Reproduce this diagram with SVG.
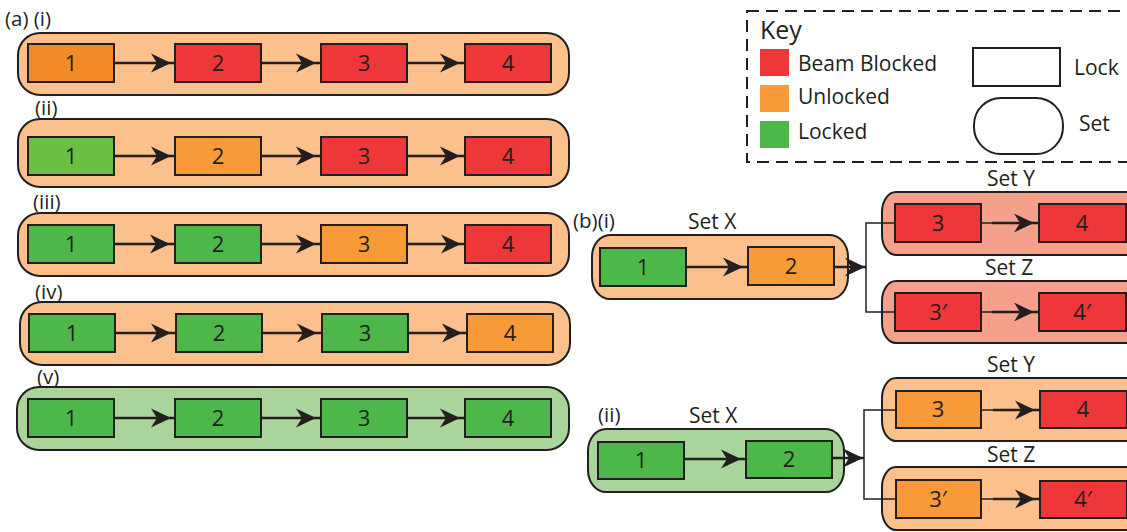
<svg xmlns="http://www.w3.org/2000/svg" width="1127" height="532" viewBox="0 0 1127 532">
  <defs>
    <style>
      text { font-family: "Open Sans", "Liberation Sans", sans-serif; fill: #231F20; }
      .lbl { font-size: 20.5px; }
      .ttl { font-size: 21px; }
      .num { font-size: 22px; text-anchor: middle; }
      .set { stroke: #231F20; stroke-width: 2; }
      .lock { stroke: #231F20; stroke-width: 2; }
      .so { fill: #FBC08B; }
      .sg { fill: #A9D59C; }
      .sr { fill: #F5A08B; }
      .r { fill: #EE3738; }
      .o { fill: #F79A37; }
      .od { fill: #F28B25; }
      .g { fill: #4EB749; }
      .gl { fill: #6DBE45; }
      .ln { fill: none; stroke: #231F20; stroke-width: 2.5; }
      .thin { fill: none; stroke: #231F20; stroke-width: 1.5; }
    </style>
    <marker id="ah" markerUnits="userSpaceOnUse" markerWidth="24" markerHeight="24" viewBox="-22 -12 24 24" refX="0" refY="0" orient="auto">
      <path d="M0,0 L-20,-9.5 L-14,0 L-20,9.5 Z" fill="#231F20"/>
    </marker>
  </defs>

  <!-- key -->
  <g id="key">
    <rect x="747" y="11" width="420" height="151" fill="none" stroke="#231F20" stroke-width="2" stroke-dasharray="12 7"/>
    <text x="760" y="39" style="font-size:25px">Key</text>
    <rect x="760" y="49" width="29" height="27" class="r"/>
    <rect x="760" y="85" width="29" height="27" class="o"/>
    <rect x="760" y="121" width="29" height="27" class="g"/>
    <text x="798" y="71" class="ttl">Beam Blocked</text>
    <text x="798" y="104" class="ttl">Unlocked</text>
    <text x="798" y="139" class="ttl">Locked</text>
    <rect x="973" y="48" width="87" height="38" fill="#fff" class="lock"/>
    <text x="1074" y="75" class="ttl">Lock</text>
    <rect x="974" y="98" width="89" height="56" rx="27" ry="27" fill="#fff" class="set"/>
    <text x="1079" y="131" class="ttl">Set</text>
  </g>

  <!-- (a) labels -->
  <g id="labels-a">
    <text x="5" y="26" class="lbl">(a) (i)</text>
    <text x="35" y="115" class="lbl">(ii)</text>
    <text x="33" y="209" class="lbl">(iii)</text>
    <text x="35" y="299" class="lbl">(iv)</text>
    <text x="37" y="384" class="lbl">(v)</text>
  </g>

  <!-- (a)(i) -->
  <g id="a1">
    <rect x="18" y="33" width="551" height="62" rx="22" ry="22" class="set so"/>
    <rect x="28" y="44" width="86" height="38" class="lock od"/>
    <rect x="175" y="44" width="86" height="38" class="lock r"/>
    <rect x="321" y="44" width="86" height="38" class="lock r"/>
    <rect x="465" y="44" width="86" height="38" class="lock r"/>
    <text x="71" y="71" class="num">1</text>
    <text x="218" y="71" class="num">2</text>
    <text x="364" y="71" class="num">3</text>
    <text x="508" y="71" class="num">4</text>
  </g>

  <!-- (a)(ii) -->
  <g id="a2">
    <rect x="18" y="119" width="551" height="68" rx="22" ry="22" class="set so"/>
    <rect x="28" y="137" width="86" height="38" class="lock gl"/>
    <rect x="175" y="137" width="86" height="38" class="lock o"/>
    <rect x="321" y="137" width="86" height="38" class="lock r"/>
    <rect x="465" y="137" width="86" height="38" class="lock r"/>
    <text x="71" y="164" class="num">1</text>
    <text x="218" y="164" class="num">2</text>
    <text x="364" y="164" class="num">3</text>
    <text x="508" y="164" class="num">4</text>
  </g>

  <!-- (a)(iii) -->
  <g id="a3">
    <rect x="18" y="213" width="551" height="63" rx="22" ry="22" class="set so"/>
    <rect x="28" y="225" width="86" height="38" class="lock g"/>
    <rect x="175" y="225" width="86" height="38" class="lock g"/>
    <rect x="321" y="225" width="86" height="38" class="lock o"/>
    <rect x="465" y="225" width="86" height="38" class="lock r"/>
    <text x="71" y="252" class="num">1</text>
    <text x="218" y="252" class="num">2</text>
    <text x="364" y="252" class="num">3</text>
    <text x="508" y="252" class="num">4</text>
  </g>

  <!-- (a)(iv) -->
  <g id="a4">
    <rect x="20" y="302" width="550" height="63" rx="22" ry="22" class="set so"/>
    <rect x="29" y="314" width="86" height="38" class="lock g"/>
    <rect x="176" y="314" width="86" height="38" class="lock g"/>
    <rect x="322" y="314" width="86" height="38" class="lock g"/>
    <rect x="467" y="314" width="86" height="38" class="lock o"/>
    <text x="72" y="341" class="num">1</text>
    <text x="219" y="341" class="num">2</text>
    <text x="365" y="341" class="num">3</text>
    <text x="510" y="341" class="num">4</text>
  </g>

  <!-- (a)(v) -->
  <g id="a5">
    <rect x="17" y="387" width="552" height="63" rx="22" ry="22" class="set sg"/>
    <rect x="28" y="399" width="86" height="38" class="lock g"/>
    <rect x="175" y="399" width="86" height="38" class="lock g"/>
    <rect x="321" y="399" width="86" height="38" class="lock g"/>
    <rect x="465" y="399" width="86" height="38" class="lock g"/>
    <text x="71" y="426" class="num">1</text>
    <text x="218" y="426" class="num">2</text>
    <text x="364" y="426" class="num">3</text>
    <text x="508" y="426" class="num">4</text>
  </g>

  <!-- (b)(i) -->
  <g id="b1-labels">
    <text x="573" y="228" class="lbl">(b)(i)</text>
    <text x="688" y="229" class="ttl">Set X</text>
    <text x="987" y="186" class="ttl">Set Y</text>
    <text x="985" y="275" class="ttl">Set Z</text>
  </g>
  <g id="b1-setX">
    <rect x="592" y="235" width="256" height="64" rx="18" ry="22" class="set so"/>
    <rect x="600" y="248" width="86" height="38" class="lock g"/>
    <rect x="748" y="247" width="86" height="38" class="lock o"/>
    <text x="643" y="275" class="num">1</text>
    <text x="791" y="274" class="num">2</text>
  </g>
  <g id="b1-setY">
    <rect x="882" y="192" width="300" height="63" rx="14" ry="20" class="set sr"/>
    <rect x="895" y="204" width="86" height="38" class="lock r"/>
    <rect x="1039" y="204" width="87" height="38" class="lock r"/>
    <text x="938" y="231" class="num">3</text>
    <text x="1082" y="231" class="num">4</text>
  </g>
  <g id="b1-setZ">
    <rect x="882" y="281" width="300" height="62" rx="14" ry="20" class="set sr"/>
    <rect x="895" y="293" width="86" height="38" class="lock r"/>
    <rect x="1039" y="293" width="87" height="38" class="lock r"/>
    <text x="938" y="320" class="num">3′</text>
    <text x="1082" y="320" class="num">4′</text>
  </g>

  <!-- (b)(ii) -->
  <g id="b2-labels">
    <text x="598" y="422" class="lbl">(ii)</text>
    <text x="689" y="423" class="ttl">Set X</text>
    <text x="987" y="372" class="ttl">Set Y</text>
    <text x="987" y="462" class="ttl">Set Z</text>
  </g>
  <g id="b2-setX">
    <rect x="588" y="429" width="256" height="63" rx="18" ry="22" class="set sg"/>
    <rect x="598" y="442" width="86" height="37" class="lock g"/>
    <rect x="746" y="441" width="86" height="37" class="lock g"/>
    <text x="641" y="468" class="num">1</text>
    <text x="789" y="467" class="num">2</text>
  </g>
  <g id="b2-setY">
    <rect x="882" y="378" width="300" height="63" rx="14" ry="20" class="set so"/>
    <rect x="896" y="391" width="85" height="37" class="lock o"/>
    <rect x="1040" y="391" width="87" height="37" class="lock r"/>
    <text x="938" y="417" class="num">3</text>
    <text x="1083" y="417" class="num">4</text>
  </g>
  <g id="b2-setZ">
    <rect x="882" y="467" width="300" height="63" rx="14" ry="20" class="set so"/>
    <rect x="896" y="480" width="85" height="38" class="lock o"/>
    <rect x="1040" y="481" width="87" height="37" class="lock r"/>
    <text x="938" y="507" class="num">3′</text>
    <text x="1083" y="507" class="num">4′</text>
  </g>

  <!-- connectors -->
  <g id="connectors">
    <!-- (a) chains -->
    <path class="ln" marker-mid="url(#ah)" d="M114,63 L171,63 L175,63"/>
    <path class="ln" marker-mid="url(#ah)" d="M261,63 L316,63 L321,63"/>
    <path class="ln" marker-mid="url(#ah)" d="M407,63 L460,63 L465,63"/>

    <path class="ln" marker-mid="url(#ah)" d="M114,156 L171,156 L175,156"/>
    <path class="ln" marker-mid="url(#ah)" d="M261,156 L316,156 L321,156"/>
    <path class="ln" marker-mid="url(#ah)" d="M407,156 L460,156 L465,156"/>

    <path class="ln" marker-mid="url(#ah)" d="M114,244 L170,244 L175,244"/>
    <path class="ln" marker-mid="url(#ah)" d="M261,244 L316,244 L321,244"/>
    <path class="ln" marker-mid="url(#ah)" d="M407,244 L461,244 L465,244"/>

    <path class="ln" marker-mid="url(#ah)" d="M115,333 L171,333 L176,333"/>
    <path class="ln" marker-mid="url(#ah)" d="M262,333 L317,333 L322,333"/>
    <path class="ln" marker-mid="url(#ah)" d="M408,333 L462,333 L467,333"/>

    <path class="ln" marker-mid="url(#ah)" d="M114,418 L171,418 L175,418"/>
    <path class="ln" marker-mid="url(#ah)" d="M261,418 L316,418 L321,418"/>
    <path class="ln" marker-mid="url(#ah)" d="M407,418 L460,418 L465,418"/>

    <!-- (b)(i) -->
    <path class="ln" marker-mid="url(#ah)" d="M686,267 L743,267 L748,267"/>
    <path class="ln" marker-mid="url(#ah)" d="M834,267 L865,267 L866,267"/>
    <path class="thin" d="M895,223 H866 V312 H895"/>
    <path class="thin" d="M981,223 H992"/>
    <path class="ln" marker-mid="url(#ah)" d="M992,223 L1034,223 L1039,223"/>
    <path class="thin" d="M981,312 H992"/>
    <path class="ln" marker-mid="url(#ah)" d="M992,312 L1034,312 L1039,312"/>

    <!-- (b)(ii) -->
    <path class="ln" marker-mid="url(#ah)" d="M684,459 L741,459 L746,459"/>
    <path class="ln" marker-mid="url(#ah)" d="M832,458 L863,458 L864,458"/>
    <path class="thin" d="M896,410 H864 V499 H896"/>
    <path class="thin" d="M981,410 H993"/>
    <path class="ln" marker-mid="url(#ah)" d="M993,410 L1035,410 L1040,410"/>
    <path class="thin" d="M981,499 H993"/>
    <path class="ln" marker-mid="url(#ah)" d="M993,499 L1035,499 L1040,499"/>
  </g>
</svg>
